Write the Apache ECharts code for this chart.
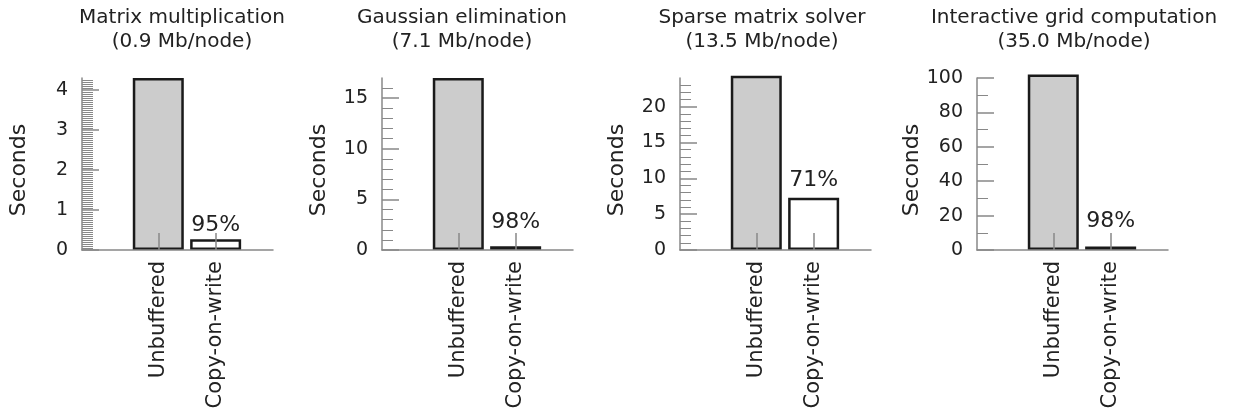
<!DOCTYPE html>
<html>
<head>
<meta charset="utf-8">
<script src="https://cdn.jsdelivr.net/npm/echarts@6/dist/echarts.min.js"></script>
<style>
html,body{margin:0;padding:0;background:#fff;}
#chart{width:1233px;height:412px;}
</style>
</head>
<body>
<div id="chart"></div>
<script>
// ---- data ----
const categories = ['Unbuffered', 'Copy-on-write'];
const titles = ['Matrix multiplication', 'Gaussian elimination', 'Sparse matrix solver', 'Interactive grid computation'];
const nodeSizes = ['(0.9 Mb/node)', '(7.1 Mb/node)', '(13.5 Mb/node)', '(35.0 Mb/node)'];
const unbuffered = [4.3, 17.0, 24.3, 102];
const copyOnWrite = [0.27, 0.38, 7.3, 2.0];
const reductions = ['95%', '98%', '71%', '98%'];
const yMax = [4.3, 17, 24, 100];
const yInterval = [1, 5, 5, 20];
const yMinorSplit = [20, 5, 5, 2];
const yTicks1 = [0, 1, 2, 3, 4];
const yTicks2 = [0, 5, 10, 15];
const yTicks3 = [0, 5, 10, 15, 20];
const yTicks4 = [0, 20, 40, 60, 80, 100];
const yTicks = [yTicks1, yTicks2, yTicks3, yTicks4];

// ---- layout / style ----
const gridLeft = [82, 382, 680, 977];
const titleCenter = [182, 462, 762, 1074];
const labelDistance = [3, 12.5, 6.5, 14];
const FONT = 'DejaVu Sans';
const TEXT = '#222';
const AXIS = '#888';

const chart = echarts.init(document.getElementById('chart'));
const option = {
  backgroundColor: '#fff',
  animation: false,
  textStyle: { fontFamily: FONT },
  title: [], grid: [], xAxis: [], yAxis: [], series: []
};

for (let i = 0; i < 4; i++) {
  option.title.push({
    text: titles[i] + '\n' + nodeSizes[i],
    left: titleCenter[i], top: 6, padding: 0, textAlign: 'center',
    textStyle: { fontFamily: FONT, fontSize: 20, fontWeight: 'normal', color: TEXT, lineHeight: 24 }
  });
  option.grid.push({
    left: gridLeft[i], top: 78, width: 191, bottom: 162,
    containLabel: false, outerBoundsMode: 'none'
  });
  option.xAxis.push({
    gridIndex: i, type: 'value', min: -0.33, max: 3, z: 3,
    axisLine: { show: true, onZero: false, lineStyle: { color: AXIS, width: 1.5 } },
    axisTick: { show: true, inside: true, length: 17, customValues: [1, 2], lineStyle: { color: AXIS, width: 1.5 } },
    axisLabel: {
      customValues: [1, 2],
      formatter: v => categories[Math.round(v) - 1] || '',
      rotate: 90, margin: 11, fontSize: 21, color: TEXT, fontFamily: FONT,
      padding: [0, 0, 12, 0]
    },
    splitLine: { show: false }
  });
  option.yAxis.push({
    gridIndex: i, type: 'value', min: 0, max: yMax[i], interval: yInterval[i],
    axisLine: { show: true, onZero: false, lineStyle: { color: AXIS, width: 1.5 } },
    axisTick: { show: true, inside: true, length: 17, customValues: yTicks[i], lineStyle: { color: AXIS, width: 1.5 } },
    minorTick: { show: true, splitNumber: yMinorSplit[i], length: 11, lineStyle: { color: AXIS, width: 1 } },
    axisLabel: { customValues: yTicks[i], margin: 14, fontSize: 19, color: TEXT, fontFamily: FONT },
    splitLine: { show: false },
    minorSplitLine: { show: false },
    name: 'Seconds', nameLocation: 'middle', nameGap: 52, nameRotate: 90,
    nameTextStyle: { fontSize: 22, color: TEXT, fontFamily: FONT, padding: [0, 12, 0, 0] }
  });
  option.series.push({
    type: 'bar', xAxisIndex: i, yAxisIndex: i, barWidth: 51, clip: false,
    itemStyle: { borderColor: '#1a1a1a', borderWidth: 2.5 },
    data: [
      { value: [1, unbuffered[i]], itemStyle: { color: '#cccccc' } },
      { value: [2, copyOnWrite[i]], itemStyle: { color: '#ffffff' },
        label: { show: true, position: 'top', distance: labelDistance[i], formatter: reductions[i],
                 fontSize: 22, color: TEXT, fontFamily: FONT } }
    ]
  });
}
chart.setOption(option);
</script>
</body>
</html>
